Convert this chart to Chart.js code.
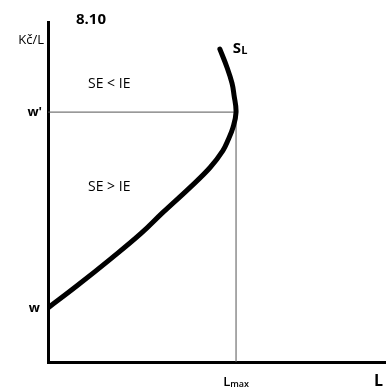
<!DOCTYPE html>
<html lang="cs">
<head>
    <meta charset="UTF-8">
    <title>Nabídka práce 8.10</title>
    <script src="https://cdn.jsdelivr.net/npm/chart.js"></script>
    <style>
        body { margin: 0; background: #fff; }
        #graf { display: block; }
    </style>
</head>
<body>
    <canvas id="graf" width="387" height="387"></canvas>

    <script>
        // zpětně zakřivená křivka nabídky práce (L, Kč/L)
        const prace = [0, 8.6, 18.7, 27.6, 34.1, 42.1, 48.1, 51.9, 53.4, 54.9, 55.8, 55.2, 54.6, 53.1, 51.0];
        const mzda  = [15.9, 22.4, 30.4, 37.8, 44.0, 51.3, 57.2, 62.2, 65.2, 69.0, 73.5, 78.5, 82.0, 86.7, 92.0];

        const w = 15.9;
        const wCarka = 73.5;
        const Lmax = 55.8;

        const fontText = '"Open Sans", Lato, sans-serif';

        const popisky = {
            id: 'popisky',
            afterDraw(chart) {
                const ctx = chart.ctx;
                const x = chart.scales.x, y = chart.scales.y;
                const a = chart.chartArea;
                ctx.save();
                ctx.fillStyle = '#000';
                ctx.textBaseline = 'middle';

                ctx.font = 'bold 15px ' + fontText;
                ctx.textAlign = 'left';
                ctx.fillText('8.10', a.left + 28, 20);

                ctx.font = '13px ' + fontText;
                ctx.textAlign = 'right';
                ctx.fillText('Kč/L', a.left - 4, 40);

                ctx.font = 'bold 13px ' + fontText;
                ctx.fillText("w'", a.left - 6, y.getPixelForValue(wCarka));
                ctx.fillText('w', a.left - 8, y.getPixelForValue(w));

                ctx.font = '14px ' + fontText;
                ctx.textAlign = 'left';
                ctx.fillText('SE < IE', a.left + 40, 84);
                ctx.fillText('SE > IE', a.left + 40, 187);

                // S s indexem L u horního konce křivky
                const konecX = x.getPixelForValue(prace[prace.length - 1]);
                const konecY = y.getPixelForValue(mzda[mzda.length - 1]);
                ctx.font = 'bold 15px ' + fontText;
                ctx.fillText('S', konecX + 13, konecY);
                const sw = ctx.measureText('S').width;
                ctx.font = 'bold 11px ' + fontText;
                ctx.fillText('L', konecX + 13 + sw, konecY + 2);

                // Lmax pod osou
                const lx = x.getPixelForValue(Lmax);
                ctx.font = '600 13px ' + fontText;
                const lw = ctx.measureText('L').width;
                ctx.font = '600 9px ' + fontText;
                const mw = ctx.measureText('max').width;
                const start = lx - (lw + mw) / 2;
                ctx.font = '600 13px ' + fontText;
                ctx.fillText('L', start, a.bottom + 20);
                ctx.font = '600 9px ' + fontText;
                ctx.fillText('max', start + lw, a.bottom + 22);

                ctx.font = 'bold 16px ' + fontText;
                ctx.fillText('L', a.right - 11, a.bottom + 19);
                ctx.restore();
            }
        };

        new Chart(document.getElementById('graf'), {
            type: 'scatter',
            data: {
                datasets: [
                    {
                        data: prace.map((l, i) => ({ x: l, y: mzda[i] })),
                        showLine: true,
                        borderColor: '#000',
                        borderWidth: 5,
                        tension: 0.4,
                        pointRadius: 0,
                        borderCapStyle: 'round'
                    },
                    {
                        data: [{ x: 0, y: wCarka }, { x: Lmax, y: wCarka }],
                        showLine: true,
                        borderColor: '#555',
                        borderWidth: 1,
                        pointRadius: 0
                    },
                    {
                        data: [{ x: Lmax, y: 0 }, { x: Lmax, y: wCarka }],
                        showLine: true,
                        borderColor: '#555',
                        borderWidth: 1,
                        pointRadius: 0
                    }
                ]
            },
            options: {
                responsive: false,
                animation: false,
                layout: { padding: { left: 40, top: 22, right: 2, bottom: 17 } },
                plugins: {
                    legend: { display: false },
                    tooltip: { enabled: false }
                },
                scales: {
                    x: {
                        type: 'linear',
                        min: 0,
                        max: 100,
                        grid: { display: false },
                        ticks: { display: false },
                        border: { display: true, color: '#000', width: 3 }
                    },
                    y: {
                        type: 'linear',
                        min: 0,
                        max: 100,
                        grid: { display: false },
                        ticks: { display: false },
                        border: { display: true, color: '#000', width: 3 }
                    }
                }
            },
            plugins: [popisky]
        });
    </script>
</body>
</html>
